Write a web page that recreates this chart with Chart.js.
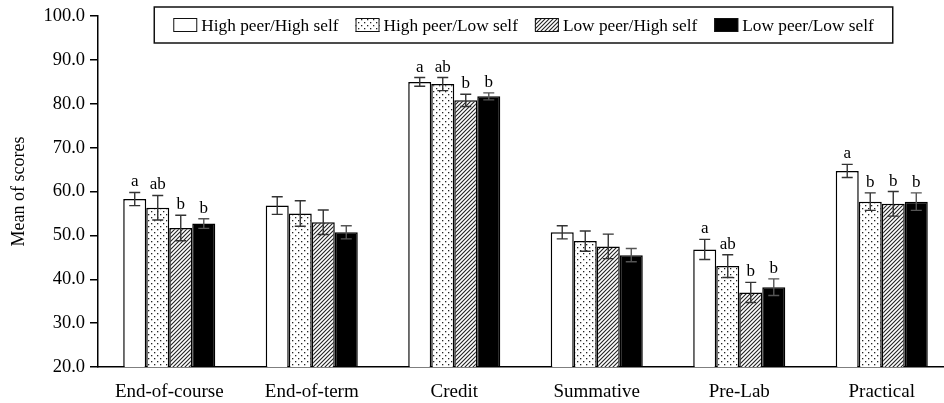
<!DOCTYPE html>
<html>
<head>
<meta charset="utf-8">
<script src="https://cdn.jsdelivr.net/npm/chart.js@4"></script>
<style>
  html, body { margin: 0; padding: 0; overflow: hidden; background: #fff; }
  #wrap { width: 960px; height: 403px; position: relative; }
</style>
</head>
<body>
<div id="wrap"><canvas id="chart"></canvas></div>
<script>
// categories and series
const categories = ['End-of-course', 'End-of-term', 'Credit', 'Summative', 'Pre-Lab', 'Practical'];
const seriesLabels = ['High peer/High self', 'High peer/Low self', 'Low peer/High self', 'Low peer/Low self'];

const highHigh = [58.3, 56.8, 85.0, 50.7, 46.8, 64.7];
const highLow  = [56.3, 55.0, 84.5, 48.7, 43.0, 57.7];
const lowHigh  = [51.7, 53.0, 80.8, 47.5, 37.0, 57.2];
const lowLow   = [52.7, 50.7, 81.7, 45.5, 38.2, 57.7];

// error bar half-widths
const highHighErr = [1.5, 2.0, 1.0, 1.5, 2.3, 1.5];
const highLowErr  = [2.8, 2.9, 1.5, 2.3, 2.6, 2.0];
const lowHighErr  = [2.9, 2.8, 1.4, 2.8, 2.3, 2.8];
const lowLowErr   = [1.1, 1.5, 0.8, 1.5, 1.9, 2.0];

// significance letters
const highHighSig = ['a', '', 'a', '', 'a', 'a'];
const highLowSig  = ['ab', '', 'ab', '', 'ab', 'b'];
const lowHighSig  = ['b', '', 'b', '', 'b', 'b'];
const lowLowSig   = ['b', '', 'b', '', 'b', 'b'];

const yTicks = { min: 20, max: 100, step: 10 };

const FONT = '"Liberation Serif", "Times New Roman", serif';

function dotPattern() {
    const c = document.createElement('canvas');
    c.width = 6; c.height = 6;
    const g = c.getContext('2d');
    g.fillStyle = '#fff';
    g.fillRect(0, 0, 6, 6);
    g.fillStyle = '#222';
    g.fillRect(1, 1, 1.3, 1.3);
    g.fillRect(4, 4, 1.3, 1.3);
    return g.createPattern(c, 'repeat');
}

function hatchPattern() {
    const c = document.createElement('canvas');
    c.width = 4; c.height = 4;
    const g = c.getContext('2d');
    g.fillStyle = '#fff';
    g.fillRect(0, 0, 4, 4);
    g.strokeStyle = '#222';
    g.lineWidth = 1.1;
    g.beginPath();
    g.moveTo(0, 4); g.lineTo(4, 0);
    g.moveTo(-1, 1); g.lineTo(1, -1);
    g.moveTo(3, 5); g.lineTo(5, 3);
    g.stroke();
    return g.createPattern(c, 'repeat');
}

const fills = ['#ffffff', dotPattern(), hatchPattern(), '#000000'];
const values = [highHigh, highLow, lowHigh, lowLow];
const errors = [highHighErr, highLowErr, lowHighErr, lowLowErr];
const sigs = [highHighSig, highLowSig, lowHighSig, lowLowSig];

const errorBars = {
    id: 'errorBars',
    afterDatasetsDraw(chart) {
        const ctx = chart.ctx;
        const y = chart.scales.y;
        ctx.save();
        chart.data.datasets.forEach((ds, i) => {
            const meta = chart.getDatasetMeta(i);
            meta.data.forEach((bar, j) => {
                const v = ds.data[j];
                const e = errors[i][j];
                const top = y.getPixelForValue(v + e);
                const bot = y.getPixelForValue(v - e);
                const x = bar.x;
                ctx.strokeStyle = (i === 3) ? '#555' : '#333';
                ctx.lineWidth = 1.4;
                ctx.beginPath();
                ctx.moveTo(x, top); ctx.lineTo(x, bot);
                ctx.moveTo(x - 5.5, top); ctx.lineTo(x + 5.5, top);
                ctx.moveTo(x - 5.5, bot); ctx.lineTo(x + 5.5, bot);
                ctx.stroke();
                const s = sigs[i][j];
                if (s) {
                    ctx.fillStyle = '#000';
                    ctx.font = '17px ' + FONT;
                    ctx.textAlign = 'center';
                    ctx.textBaseline = 'alphabetic';
                    ctx.fillText(s, x, top - 6);
                }
            });
        });
        ctx.restore();
    }
};

const boxedLegend = {
    id: 'boxedLegend',
    afterDraw(chart) {
        const ctx = chart.ctx;
        const area = chart.chartArea;
        ctx.save();
        ctx.font = '17.3px ' + FONT;
        const boxW = 24, boxH = 14, gap = 4, spacing = 17, padX = 19;
        const widths = seriesLabels.map(t => ctx.measureText(t).width);
        let inner = 0;
        widths.forEach((w, i) => { inner += boxW + gap + w + (i < widths.length - 1 ? spacing : 0); });
        const totalW = inner + padX * 2;
        const cx = (area.left + area.right) / 2 - 2;
        const left = cx - totalW / 2;
        const top = 7, height = 36;
        ctx.fillStyle = '#fff';
        ctx.fillRect(left, top, totalW, height);
        ctx.strokeStyle = '#111';
        ctx.lineWidth = 1.5;
        ctx.strokeRect(left, top, totalW, height);
        let x = left + padX;
        const mid = top + height / 2;
        seriesLabels.forEach((t, i) => {
            ctx.fillStyle = fills[i];
            ctx.fillRect(x, mid - boxH / 2, boxW, boxH);
            ctx.strokeStyle = '#111';
            ctx.lineWidth = 1;
            ctx.strokeRect(x + 0.5, mid - boxH / 2 + 0.5, boxW - 1, boxH - 1);
            ctx.fillStyle = '#000';
            ctx.textAlign = 'left';
            ctx.textBaseline = 'middle';
            ctx.fillText(t, x + boxW + gap, mid + 1);
            x += boxW + gap + widths[i] + spacing;
        });
        ctx.restore();
    }
};

new Chart(document.getElementById('chart'), {
    type: 'bar',
    data: {
        labels: categories,
        datasets: seriesLabels.map((label, i) => ({
            label: label,
            data: values[i],
            backgroundColor: fills[i],
            borderColor: '#000',
            borderWidth: 1.5,
            borderSkipped: 'bottom',
            categoryPercentage: 0.646,
            barPercentage: 1.0
        }))
    },
    options: {
        responsive: true,
        maintainAspectRatio: false,
        animation: false,
        layout: { padding: { top: 15, right: 7, left: 0, bottom: 0 } },
        plugins: {
            legend: { display: false },
            tooltip: { enabled: false }
        },
        scales: {
            x: {
                grid: { display: false },
                border: { display: true, color: '#000', width: 1.5 },
                ticks: {
                    color: '#000',
                    font: { family: FONT, size: 19 },
                    padding: 6,
                    maxRotation: 0
                },
                afterFit(scale) { scale.height = 36; }
            },
            y: {
                min: yTicks.min,
                max: yTicks.max,
                border: { display: true, color: '#000', width: 1.5 },
                grid: { drawOnChartArea: false, drawTicks: true, tickLength: 8, color: '#000', lineWidth: 1.5 },
                ticks: {
                    stepSize: yTicks.step,
                    color: '#000',
                    padding: 5,
                    font: { family: FONT, size: 18.5 },
                    callback: v => v.toFixed(1)
                },
                title: {
                    display: true,
                    text: 'Mean of scores',
                    color: '#000',
                    font: { family: FONT, size: 18 },
                    padding: { top: 8, bottom: 0 }
                },
                afterFit(scale) { scale.width = 98; }
            }
        }
    },
    plugins: [errorBars, boxedLegend]
});
</script>
</body>
</html>
